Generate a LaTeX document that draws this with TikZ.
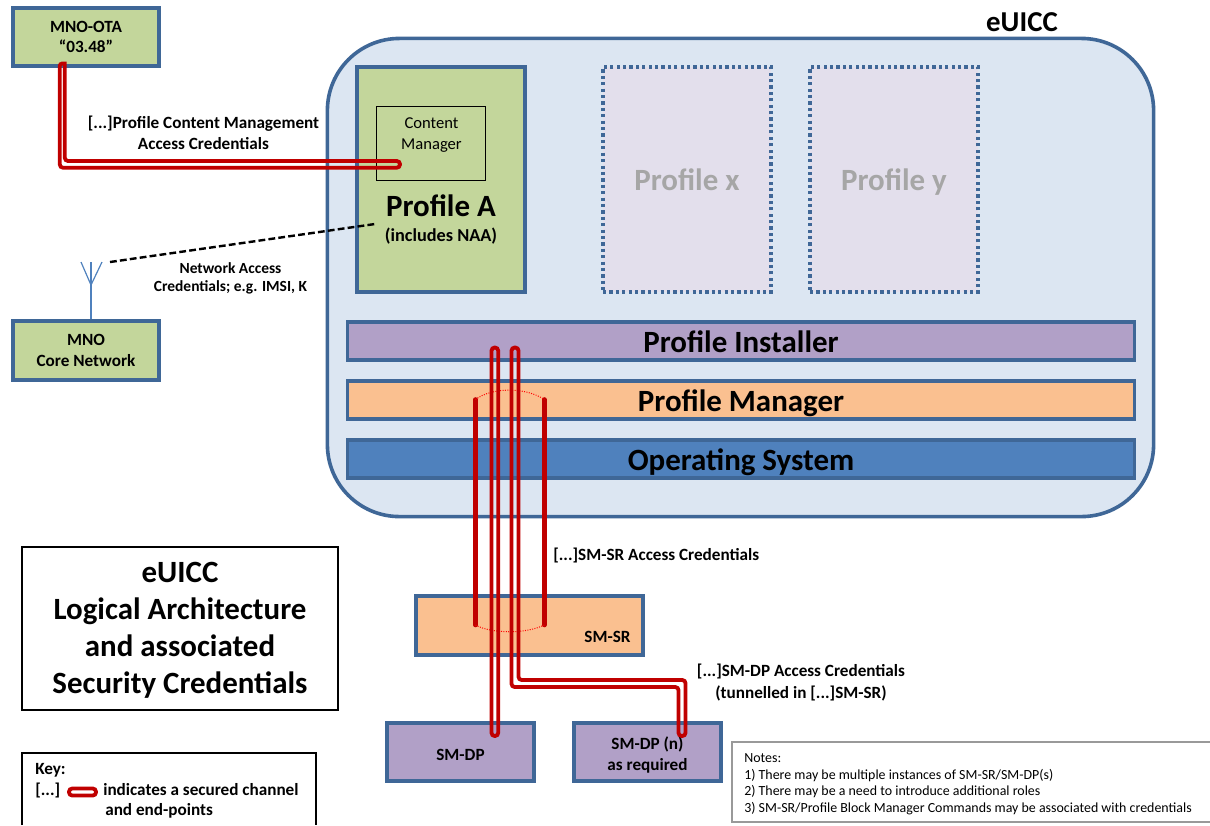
\documentclass[tikz,border=0pt]{standalone}
\usepackage{fontspec}
\setmainfont{Carlito}
\usetikzlibrary{calc}
\definecolor{borderblue}{HTML}{3F6797}
\definecolor{euiccfill}{HTML}{DCE6F2}
\definecolor{greenfill}{HTML}{C3D69B}
\definecolor{purplefill}{HTML}{B1A0C7}
\definecolor{orangefill}{HTML}{FAC090}
\definecolor{osfill}{HTML}{4F81BD}
\definecolor{ghostfill}{HTML}{E3DFEC}
\definecolor{channelred}{HTML}{C00000}
\tikzset{
	box/.style={draw=borderblue, line width=0.9mm, align=center, inner sep=0pt, font=\bfseries\fontsize{12.2}{14.5}\selectfont},
	band/.style={box, minimum width=19.67cm, minimum height=0.95cm, text height=0.6cm, text depth=0.04cm, font=\bfseries\fontsize{22}{25}\selectfont},
	ghost/.style={draw=borderblue, line width=0.9mm, dash pattern=on 0.8mm off 0.8mm, fill=ghostfill, minimum width=4.2cm, minimum height=5.62cm, text=black!35, text height=0.6cm, text depth=0.04cm, font=\bfseries\fontsize{22}{25}\selectfont},
	channel/.style={draw=channelred, line width=0.95mm, rounded corners=0.08cm},
	post/.style={draw=channelred, line width=1.15mm, line cap=round},
	hoop/.style={draw=red, line width=0.25mm, densely dotted},
	caption/.style={align=center, font=\bfseries\fontsize{12.2}{15}\selectfont, inner sep=0pt},
}
\begin{document}
\begin{tikzpicture}[x=0.025cm, y=-0.025cm]
	%%%%% START %%%%%
	\useasboundingbox (0, 0) rectangle (1210, 825);

	\node[draw=borderblue, line width=0.9mm, fill=euiccfill, rounded corners=1.8cm, minimum width=20.65cm, minimum height=11.95cm] (euicc) at (740.5, 277.5) {};
	\node[font=\bfseries\fontsize{20.5}{24}\selectfont, inner sep=0pt] (euicclabel) at (1022, 22) {eUICC};

	% profiles
	\node[box, fill=greenfill, minimum width=4.2cm, minimum height=5.62cm] (profilea) at (441, 179.5) {};
	\node[draw=black, line width=0.25mm, minimum width=2.7cm, minimum height=1.87cm, inner sep=0pt] (content) at (431, 143.5) {};
	\node[align=center, font=\fontsize{11.8}{15}\selectfont, inner sep=0pt] (contentlabel) at (431.5, 135) {Content\\Manager};
	\node[font=\bfseries\fontsize{22}{25}\selectfont, inner sep=0pt] (profilealabel) at (441, 206) {Profile A};
	\node[font=\bfseries\fontsize{13}{15}\selectfont, inner sep=0pt] (naa) at (441, 236) {(includes NAA)};
	\node[ghost] (profilex) at (687, 179.5) {Profile x};
	\node[ghost] (profiley) at (894, 179.5) {Profile y};

	% layers
	\node[band, fill=purplefill] (installer) at (741, 341) {Profile Installer};
	\node[band, fill=orangefill] (manager) at (741, 400) {Profile Manager};
	\node[band, fill=osfill] (os) at (741, 459) {Operating System};

	% outside boxes
	\node[box, fill=greenfill, minimum width=3.65cm, minimum height=1.45cm] (ota) at (86, 37) {MNO-OTA\\``03.48''};
	\node[box, fill=greenfill, minimum width=3.65cm, minimum height=1.47cm] (core) at (86, 350.5) {MNO\\Core Network};
	\node[box, fill=orangefill, minimum width=5.67cm, minimum height=1.47cm] (smsr) at (529.5, 625.5) {};
	\node[font=\bfseries\fontsize{12.2}{14}\selectfont, inner sep=0pt] (smsrlabel) at (607.5, 637) {SM-SR};
	\node[box, fill=purplefill, minimum width=3.68cm, minimum height=1.45cm, text height=0.4cm, text depth=0cm] (smdp) at (460.5, 752) {SM-DP};
	\node[box, fill=purplefill, minimum width=3.68cm, minimum height=1.45cm] (smdpn) at (647.5, 752) {};
	\node[align=center, font=\bfseries\fontsize{12.2}{14.5}\selectfont, inner sep=0pt] (smdpnlabel) at (647.5, 755) {SM-DP (n)\\as required};

	% title, key, notes
	\node[draw=black, line width=0.4mm, minimum width=7.9cm, minimum height=4.07cm, inner sep=0pt] (title) at (180, 628.5) {};
	\node[align=center, font=\bfseries\fontsize{22}{26.4}\selectfont, inner sep=0pt] (titlelabel) at (180, 630) {eUICC\\Logical Architecture\\and associated\\Security Credentials};
	\draw[black, line width=0.3mm] (22, 825) |- (316, 753) -- (316, 825);
	\node[anchor=west, font=\bfseries\fontsize{12.2}{14}\selectfont, inner sep=0pt] (keytitle) at (35, 770) {Key:};
	\node[anchor=west, font=\bfseries\fontsize{12.2}{14}\selectfont, inner sep=0pt] (keydots) at (35, 790) {[...]};
	\node[anchor=west, font=\bfseries\fontsize{12.2}{14}\selectfont, inner sep=0pt] (keytext) at (103, 790) {indicates a secured channel};
	\node[anchor=west, font=\bfseries\fontsize{12.2}{14}\selectfont, inner sep=0pt] (keytext2) at (105, 811) {and end-points};
	\draw[channel] (80, 788.5) -- (69, 788.5) -- (69, 795.5) -- (96, 795.5) -- (96, 788.5) -- cycle;

	\draw[black!40, line width=0.3mm] (1210, 742) -- (732, 742) -- (732, 822) -- (1210, 822);
	\node[anchor=north west, align=left, font=\fontsize{9.9}{11.7}\selectfont, inner sep=0pt] (notes) at (744, 753.5) {Notes:\\1) There may be multiple instances of SM-SR/SM-DP(s)\\2) There may be a need to introduce additional roles\\3) SM-SR/Profile Block Manager Commands may be associated with credentials};

	% channel labels
	\node[caption] (pcmlabel) at (203.5, 133) {[...]Profile Content Management\\Access Credentials};
	\node[caption, font=\bfseries\fontsize{11}{13}\selectfont] (nalabel) at (230.5, 278.5) {Network Access\\Credentials; e.g. IMSI, K};
	\node[caption, anchor=west] (srlabel) at (553, 555) {[...]SM-SR Access Credentials};
	\node[caption] (dplabel) at (801, 682.5) {[...]SM-DP Access Credentials\\(tunnelled in [...]SM-SR)};

	% antenna
	\coordinate (ant) at (91, 285);
	\coordinate (anttop) at (91, 262);
	\coordinate (antl) at (81, 262);
	\coordinate (antr) at (102, 262);
	\draw[osfill, line width=0.3mm] (core.north -| ant) -- (anttop);
	\draw[osfill, line width=0.3mm] (antl) -- (ant) -- (antr);
	\coordinate (dashstart) at (110, 262);
	\coordinate (dashend) at (375, 224);
	\draw[black, line width=0.6mm, dash pattern=on 1.7mm off 0.8mm] (dashstart) -- (dashend);

	% outer tunnel
	\coordinate (postal) at (475.5, 399.5);
	\coordinate (postar) at (544.3, 399.5);
	\coordinate (postbl) at (475.5, 625);
	\coordinate (postbr) at (544.3, 625);
	\draw[post] (postal) -- (postbl);
	\draw[post] (postar) -- (postbr);
	\draw[hoop] (postal) .. controls (492, 387) and (526, 387) .. (postar);
	\draw[hoop] (postbl) .. controls (492, 634) and (526, 634) .. (postbr);

	% secured channels
	\draw[channel] (59.8, 110) -- (59.8, 167.7) -- (400, 167.7) -- (400, 161) -- (64.8, 161) [sharp corners] -- (64.8, 63.5) [rounded corners=0.06cm] -- (59.8, 63.5) -- cycle;
	\draw[channel] (491.5, 500) -- (491.5, 736) -- (498.2, 736) -- (498.2, 347.5) -- (491.5, 347.5) -- cycle;
	\draw[channel] (511.5, 500) -- (511.5, 687) -- (678.5, 687) -- (678.5, 736) -- (685.5, 736) -- (685.5, 680) -- (518.5, 680) -- (518.5, 347.5) -- (511.5, 347.5) -- cycle;
	%%%%% END %%%%%
\end{tikzpicture}
\end{document}
